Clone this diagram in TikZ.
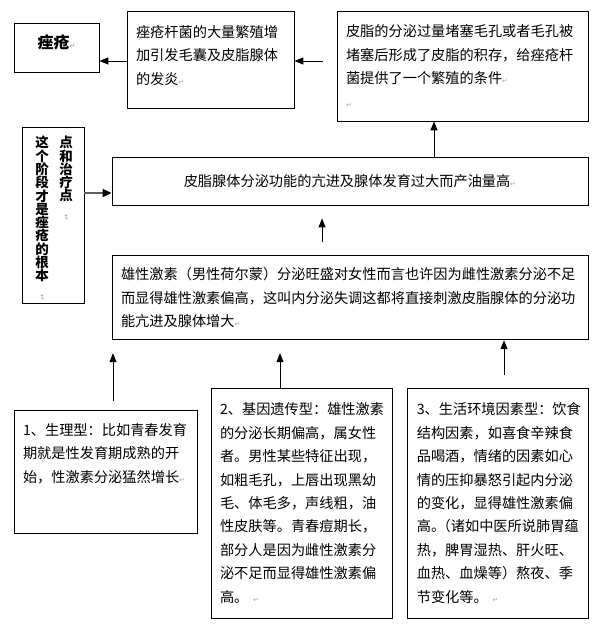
\documentclass[tikz,border=0pt]{standalone}
\usepackage{fontspec}
\usepackage{graphicx}
\setmainfont{Noto Sans CJK SC}
\newfontfamily\markfont{DejaVu Sans}
\usetikzlibrary{
	positioning,
	arrows.meta
}
\newcommand{\pmark}{{\markfont\fontsize{7}{7}\selectfont\color{gray!70}↵}}
\newcommand{\vmark}{\rotatebox{-90}{\pmark}}

\begin{document}
\begin{tikzpicture}[
			x=1pt, y=-1pt,
			font=\fontsize{14.2}{23.4}\selectfont,
			box/.style={
				draw,
				line width=0.8pt,
				inner xsep=9pt,
				inner ysep=3pt,
				align=left
			},
			vcol/.style={
				inner sep=0pt,
				align=center,
				text width=14pt,
				font=\fontsize{13.5}{13.3}\bfseries\selectfont
			},
			arrow/.style={-{Triangle[length=9pt,width=7pt]},line width=0.9pt},
			grayarrow/.style={-{Triangle[length=9pt,width=8pt,color=black]},line width=1.8pt,draw=gray!75!black}
			]
			
			\useasboundingbox (0,0) rectangle (611,628);
			
			\node[box,align=center,minimum width=85pt,minimum height=49pt,text depth=11pt,
				font=\fontsize{16}{20}\bfseries\selectfont] (acne) at (56.5,47.5)
			{痤疮\pmark};
			
			\node[box,text width=149pt,minimum height=97pt,text depth=56.5pt] (bac) at (210.5,59.5)
			{痤疮杆菌的大量繁殖增\\加引发毛囊及皮脂腺体\\的发炎\pmark};
			
			\node[box,text width=233pt,minimum height=110pt] (sebum) at (462.5,66)
			{皮脂的分泌过量堵塞毛孔或者毛孔被\\堵塞后形成了皮脂的积存，给痤疮杆\\菌提供了一个繁殖的条件\pmark\\\pmark};
			
			\node[box,minimum width=62pt,minimum height=176pt] (stage) at (53,215) {};
			\node[vcol,anchor=north] (stageL) at (42,136)
			{这\\个\\阶\\段\\才\\是\\痤\\疮\\的\\根\\本\\\vmark};
			\node[vcol,anchor=north] (stageR) at (66,136)
			{点\\和\\治\\疗\\点\\\vmark};
			
			\node[box,align=center,text width=458pt,minimum height=48pt] (gland) at (350,181)
			{皮脂腺体分泌功能的亢进及腺体发育过大而产油量高\pmark};
			
			\node[box,text width=458pt,minimum height=84pt,below=50pt of gland] (andro)
			{雄性激素（男性荷尔蒙）分泌旺盛对女性而言也许因为雌性激素分泌不足\\而显得雄性激素偏高，这叫内分泌失调这都将直接刺激皮脂腺体的分泌功\\能亢进及腺体增大\pmark};
			
			\node[box,text width=165pt,minimum height=123pt,text depth=84.5pt] (type1) at (105.5,471.5)
			{1、生理型：比如青春发育\\期就是性发育期成熟的开\\始，性激素分泌猛然增长\pmark};
			
			\node[box,text width=163pt,minimum height=230pt] (type2) at (301.5,503)
			{2、基因遗传型：雄性激素\\的分泌长期偏高，属女性\\者。男性某些特征出现，\\如粗毛孔，上唇出现黑幼\\毛、体毛多，声线粗，油\\性皮肤等。青春痘期长，\\部分人是因为雌性激素分\\泌不足而显得雄性激素偏\\高。 \pmark};
			
			\node[box,text width=163pt,minimum height=230pt,right=15pt of type2] (type3)
			{3、生活环境因素型：饮食\\结构因素，如喜食辛辣食\\品喝酒，情绪的因素如心\\情的压抑暴怒引起内分泌\\的变化，显得雄性激素偏\\高。\kern-0.6em（诸如中医所说肺胃蕴\\热，脾胃湿热、肝火旺、\\血热、血燥等）熬夜、季\\节变化等。 \pmark};
			
			\draw[arrow] (bac.west |- 0,61)--(acne.east |- 0,61);
			\draw[arrow] ([xshift=-14pt]sebum.west |- 0,61)--(bac.east |- 0,61);
			\draw[arrow] (gland.north -| 434,0)--(sebum.south -| 434,0);
			\draw[grayarrow] (stage.east |- 0,193)--(gland.west |- 0,193);
			\draw[arrow,shorten <=13pt,shorten >=13pt] (andro.north -| 322,0)--(gland.south -| 322,0);
			\draw[arrow,shorten <=9pt,shorten >=13pt] (type1.north -| 113,0)--(andro.south -| 113,0);
			\draw[arrow,shorten >=13pt] (type2.north -| 280,0)--(andro.south -| 280,0);
			\draw[arrow,shorten <=13pt] (type3.north -| 504,0)--(andro.south -| 504,0);
			
		\end{tikzpicture}
\end{document}
